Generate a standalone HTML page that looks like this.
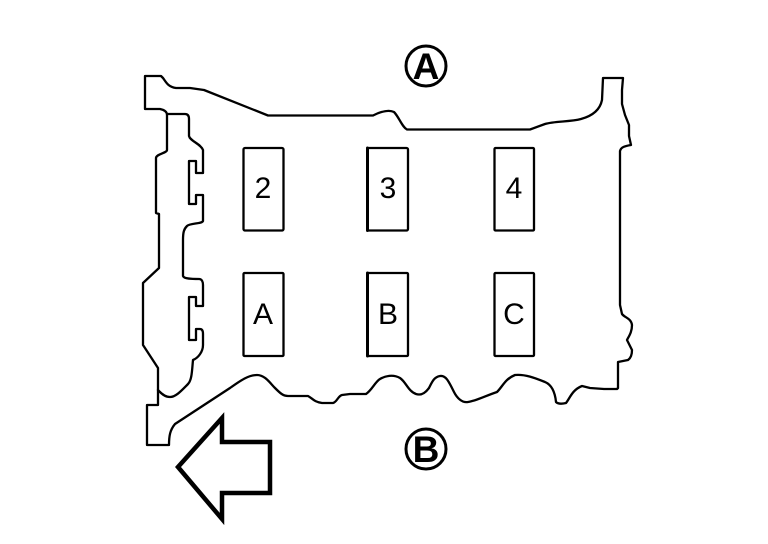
<!DOCTYPE html>
<html><head><meta charset="utf-8"><style>
html,body{margin:0;padding:0;background:#fff}
svg{display:block}
text{font-family:"Liberation Sans",sans-serif;fill:#000;text-anchor:middle}
</style></head><body>
<svg width="768" height="544" viewBox="0 0 768 544" xmlns="http://www.w3.org/2000/svg">
<g fill="none" stroke="#000" stroke-width="2.300" stroke-linejoin="round" stroke-linecap="round">
<path d="M159 240V268L143 283V345L158 368V405H147V445H169C169 436 170 430 175 424L230 388C240 381 248 375 257 375C265 375 270 383 275 388C280 393 283 396 288 396H308C312 398 314 402 322 403H333C337 402 338 396 342 395L350 394H366C372 390 375 382 380 379C385 376 393 374 400 378C406 382 408 391 416 394C422 396 426 392 429 388C432 382 434 377 440 376C446 375 449 382 454 392C457 398 462 403 468 402C476 401 485 396 497 392C503 386 505 379 515 375C525 374 535 378 545 382C552 385 555 392 556 402C558 404 562 404 566 403C570 398 572 390 582 386L590 388L604 389H617L618 388V362L628 360C631 358 632 354 632 350L627 340C629 336 632 332 632 325C631 318 625 318 622 314L620 305V151C621 147 625 146 631 145L629 136V125L625 115L622 104V90L623 78H603L602 100C600 110 592 116 581 119C570 122 555 121 545 124L530 129.500H407C402 127 399 117 394 112C388 109 380 112 373 115.500H268L204 90L190 88H176C168 87 166 82 163 78L161 76H145V109H160C165 110 167 112 167 115V150C167 153 156 154 156 158V213L159 214Z"/>
<path d="M168 114H185C188 114 189 116 189 119V136C190 141 201 144 203 150V173H196V161H189V204H196V195H203V221C202 224 190 223 187 226C184 229 183 232 183 240V276C184 279 192 279 199 279C202 279 203 282 203 285V306H196V297H189V340H196V329H200C202 329 203 331 203 334V345C203 352 198 358 193 360C192 370 192 380 188 384C182 390 176 397 170 397C164 397 160 392 158 390"/>
<rect x="243.500" y="148" width="40" height="82.500" rx="1.500"/>
<rect x="367.500" y="148" width="40.500" height="82.500" rx="1.500"/>
<rect x="494.500" y="148" width="39.500" height="82.500" rx="1"/>
<rect x="243.500" y="273" width="40" height="83" rx="1"/>
<rect x="367.500" y="273" width="40.500" height="83" rx="1"/>
<rect x="494.500" y="273" width="39.500" height="83" rx="1"/>
<path d="M367.500 148V230.500M367.500 273V356" stroke-width="3"/>
<path d="M178 467L222 418V442H270V493H222V519Z" stroke-width="4.500" stroke-linejoin="miter"/>
<circle cx="426" cy="66" r="20" stroke-width="3"/>
<circle cx="426" cy="449" r="20" stroke-width="3"/>
</g>
<text x="263" y="198" font-size="30">2</text>
<text x="388" y="198" font-size="30">3</text>
<text x="514" y="198" font-size="30">4</text>
<text x="263" y="324" font-size="30">A</text>
<text x="388" y="324" font-size="30">B</text>
<text x="514" y="324" font-size="30">C</text>
<text x="426" y="79" font-size="37" font-weight="bold">A</text>
<text x="426" y="462" font-size="37" font-weight="bold">B</text>
</svg>
</body></html>
